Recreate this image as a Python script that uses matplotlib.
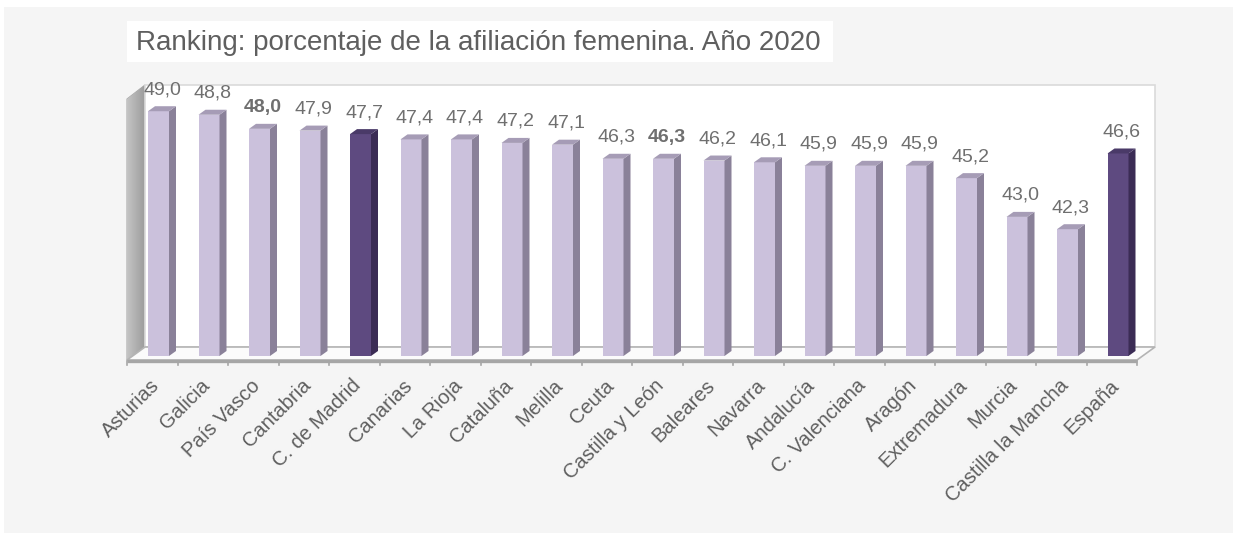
import matplotlib
matplotlib.use("Agg")
import matplotlib.pyplot as plt
import numpy as np
from matplotlib.patches import Polygon, Rectangle
from matplotlib.transforms import ScaledTranslation

plt.rcParams['font.family'] = ['Liberation Sans', 'DejaVu Sans']

categories = ["Asturias", "Galicia", "País Vasco", "Cantabria", "C. de Madrid",
              "Canarias", "La Rioja", "Cataluña", "Melilla", "Ceuta",
              "Castilla y León", "Baleares", "Navarra", "Andalucía",
              "C. Valenciana", "Aragón", "Extremadura", "Murcia",
              "Castilla la Mancha", "España"]
values = [49.0, 48.8, 48.0, 47.9, 47.7, 47.4, 47.4, 47.2, 47.1, 46.3,
          46.3, 46.2, 46.1, 45.9, 45.9, 45.9, 45.2, 43.0, 42.3, 46.6]
highlight = ["C. de Madrid", "España"]
bold_labels = ["País Vasco", "Castilla y León"]
title = "Ranking: porcentaje de la afiliación femenina. Año 2020"

W, H = 1238, 535
fig = plt.figure(figsize=(W / 100, H / 100), dpi=100)
fig.patch.set_facecolor("white")

# background axes in pixel coordinates (decorations)
bg = fig.add_axes([0, 0, 1, 1], zorder=0)
bg.set_xlim(0, W)
bg.set_ylim(H, 0)
bg.axis("off")

bg.add_patch(Rectangle((4, 7), 1229, 526, facecolor="#f5f5f5", edgecolor="none"))
bg.add_patch(Rectangle((127, 21), 706, 41, facecolor="white", edgecolor="none"))
bg.text(136, 42.5, title, fontsize=20, color="#5f5f5f", va="center", ha="left")

n = len(categories)
fx0, fy = 127, 360          # front-left floor corner
step = 50.5
ddx, ddy = 18, -13          # depth offset
fx1 = fx0 + n * step
bx0, by, bx1, wtop = fx0 + ddx, fy + ddy, fx1 + ddx, 85

# left wall with gradient
lw_poly = Polygon([(fx0, wtop + 14), (bx0, wtop), (bx0, by), (fx0, fy)],
                  closed=True, facecolor="none", edgecolor="#a8a8a8", lw=0.8)
bg.add_patch(lw_poly)
grad = np.linspace(0, 1, 64).reshape(1, -1)
im = bg.imshow(grad, extent=(fx0, bx0, fy, wtop), cmap=plt.matplotlib.colors.LinearSegmentedColormap.from_list(
    "g", ["#c4c4c4", "#9c9c9c"]), aspect="auto", zorder=1)
im.set_clip_path(lw_poly)
bg.set_xlim(0, W)
bg.set_ylim(H, 0)
# back wall
bg.add_patch(Rectangle((bx0, wtop), bx1 - bx0, by - wtop, facecolor="white",
                       edgecolor="#dadada", lw=1.2, zorder=1))
# floor
bg.add_patch(Polygon([(fx0, fy), (bx0, by), (bx1, by), (fx1, fy)], closed=True,
                     facecolor="#fbfbfb", edgecolor="#b4b4b4", lw=1.2, zorder=1))
bg.plot([fx0, fx1], [fy + 1, fy + 1], color="#a6a6a6", lw=2.4, solid_capstyle="butt", zorder=2)
for k in range(n + 1):
    xk = fx0 + k * step
    bg.plot([xk, xk], [fy + 1, fy + 5], color="#a6a6a6", lw=1.2, zorder=2)

# bar axes in data coordinates
bottom_px = 356
y0, y1 = 35.1, 51.0
ppu = 17.61
ax_h = (y1 - y0) * ppu
left_px = fx0 + 31.5 - step / 2
ax = fig.add_axes([left_px / W, (H - bottom_px) / H, n * step / W, ax_h / H], zorder=1)
ax.set_xlim(-0.5, n - 0.5)
ax.set_ylim(y0, y1)
ax.patch.set_alpha(0)
ax.axis("off")

bw = 21 / step
dx = 7 / step
dy = 5 / ppu

for i, (cat, v) in enumerate(zip(categories, values)):
    dark = cat in highlight
    front = "#5e4a80" if dark else "#cbc1dc"
    side = "#3b2c55" if dark else "#8a8199"
    top = "#4a3a68" if dark else "#a69cb6"
    ax.bar(i, v - y0, bottom=y0, width=bw, color=front, edgecolor="none", zorder=3)
    xr = i + bw / 2
    xl = i - bw / 2
    ax.add_patch(Polygon([(xr, y0), (xr + dx, y0 + dy), (xr + dx, v + dy), (xr, v)],
                         closed=True, facecolor=side, edgecolor="none", zorder=3))
    ax.add_patch(Polygon([(xl, v), (xr, v), (xr + dx, v + dy), (xl + dx, v + dy)],
                         closed=True, facecolor=top, edgecolor="none", zorder=3))
    lbl = f"{v:.1f}".replace(".", ",")
    ax.text(i + dx / 2, v + dy, lbl, ha="center", va="bottom", fontsize=14,
            color="#6f6f6f", fontweight="bold" if cat in bold_labels else "normal",
            transform=ax.transData + ScaledTranslation(0, 8 / 100, fig.dpi_scale_trans),
            clip_on=False, zorder=4)
    ax.text(i, 0, cat, ha="right", va="top", rotation=45, rotation_mode="anchor",
            fontsize=14.5, color="#5f5f5f",
            transform=ax.get_xaxis_transform() + ScaledTranslation(-9 / 100, -20 / 100, fig.dpi_scale_trans),
            clip_on=False)

fig.savefig("out.png", dpi=100)
